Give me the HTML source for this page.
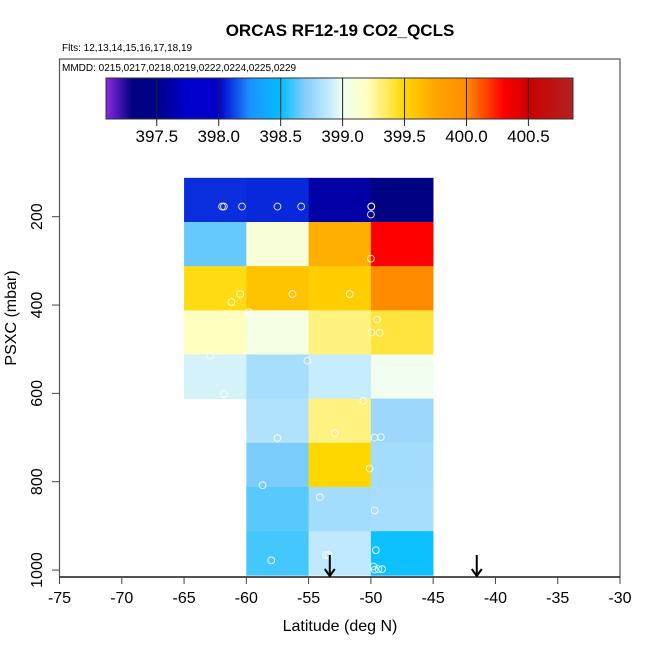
<!DOCTYPE html>
<html><head><meta charset="utf-8"><style>
html,body{margin:0;padding:0;background:#fff}
svg{display:block;font-family:"Liberation Sans",sans-serif}
</style></head><body>
<svg id="chart" width="650" height="650" viewBox="0 0 650 650"></svg>
<script>
// ---- data ----
const latEdges = [-65, -60, -55, -50, -45];
const presEdges = [112, 212, 312, 412, 512, 612, 712, 812, 912, 1012];
// rows top->bottom (low pressure -> high), cols by latitude
const cellValues = [
  [398.08, 398.07, 397.6, 397.35],
  [398.65, 399.1, 399.7, 400.3],
  [399.47, 399.6, 399.55, 400.0],
  [399.2, 399.05, 399.3, 399.4],
  [398.93, 398.8, 398.9, 399.0],
  [null, 398.83, 399.3, 398.77],
  [null, 398.68, 399.5, 398.79],
  [null, 398.63, 398.79, 398.8],
  [null, 398.6, 398.88, 398.52]
];
const pointLat = [-61.95,-61.8,-60.35,-57.5,-55.6,-49.97,-49.97,-50.0,-50.0,-60.5,-61.2,-56.3,-51.7,-59.8,-49.5,-49.95,-49.3,-62.9,-55.1,-61.8,-50.6,-57.5,-52.9,-49.7,-49.2,-50.1,-58.7,-54.1,-49.7,-58.0,-53.6,-53.4,-49.6,-49.8,-49.7,-49.4,-49.1];
const pointPres = [177,177,177,177,177,177,177,195,295,375,393,375,375,416,433,462,463,515,526,601,617,701,690,700,699,770,808,835,865,978,966,966,955,992,999,998,998];
const arrowLats = [-53.3, -41.5];
const xTicks = [-75,-70,-65,-60,-55,-50,-45,-40,-35,-30];
const yTicks = [200,400,600,800,1000];
const cbTicks = [397.5,398.0,398.5,399.0,399.5,400.0,400.5];
const cbMin = 397.09, cbMax = 400.86;
const colorStops = [
  [397.09,'#8a2be2'],[397.3,'#000080'],[397.5,'#00008b'],[397.75,'#0000cd'],[398.0,'#0000cd'],
  [398.25,'#1e90ff'],[398.5,'#00bfff'],[398.7,'#87cefa'],[398.9,'#c6ecff'],[399.0,'#f0fff0'],
  [399.2,'#ffffc0'],[399.5,'#ffd700'],[399.75,'#ffa500'],[400.0,'#ff8c00'],[400.3,'#ff0000'],
  [400.5,'#cd0000'],[400.86,'#b22222']
];
// ---- scales ----
const X0 = 59.5, X1 = 620;
const xs = v => X0 + (v + 75) / 45 * (X1 - X0);
const ys = p => 216.7 + (p - 200) * 0.4417;
const CBL = 106, CBR = 573;
const cbx = v => CBL + (v - cbMin) / (cbMax - cbMin) * (CBR - CBL);
function hex2rgb(h){return [1,3,5].map(i=>parseInt(h.substr(i,2),16));}
function colorFor(v){
  if (v <= colorStops[0][0]) return colorStops[0][1];
  for (let i=1;i<colorStops.length;i++){
    if (v <= colorStops[i][0]){
      const [a,ca]=colorStops[i-1],[b,cb]=colorStops[i];
      const t=(v-a)/(b-a), A=hex2rgb(ca), B=hex2rgb(cb);
      return 'rgb('+A.map((x,k)=>Math.round(x+(B[k]-x)*t)).join(',')+')';
    }
  }
  return colorStops[colorStops.length-1][1];
}
const NS='http://www.w3.org/2000/svg';
const svg=document.getElementById('chart');
function mk(tag,attrs,parent){const e=document.createElementNS(NS,tag);for(const k in attrs)e.setAttribute(k,attrs[k]);(parent||svg).appendChild(e);return e;}

// title
let t=mk('text',{x:340,y:36,'text-anchor':'middle','font-size':17,'font-weight':'bold'});
t.textContent='ORCAS RF12-19 CO2_QCLS';


t=mk('text',{x:62,y:51,'font-size':10});
t.textContent='Flts: 12,13,14,15,16,17,18,19';


t=mk('text',{x:62,y:71,'font-size':10});
t.textContent='MMDD: 0215,0217,0218,0219,0222,0224,0225,0229';



// colorbar
const cbg=mk('g',{});


const defs=mk('defs',{});
const lg=mk('linearGradient',{id:'cbgrad',x1:0,x2:1,y1:0,y2:0},defs);
colorStops.forEach(s=>mk('stop',{offset:((s[0]-cbMin)/(cbMax-cbMin)),'stop-color':s[1]},lg));
mk('rect',{x:CBL,y:78,width:CBR-CBL,height:41,fill:'url(#cbgrad)',stroke:'#333','stroke-width':1},cbg);
cbTicks.forEach(v=>{
  const x=cbx(v);
  const l=mk('line',{x1:x,x2:x,y1:78,y2:126,stroke:'#222','stroke-width':1},cbg);
  
  
  const tx=mk('text',{x:x,y:142,'text-anchor':'middle','font-size':17},cbg);
  tx.textContent=v.toFixed(1);
  
  
});

// heatmap cells
const cells=mk('g',{});


cellValues.forEach((row,r)=>row.forEach((v,c)=>{
  if(v===null)return;
  const x=xs(latEdges[c]),x2=xs(latEdges[c+1]),y=ys(presEdges[r]),y2=ys(presEdges[r+1]);
  const rc=mk('rect',{x:x,y:y,width:x2-x+0.3,height:y2-y+0.3,fill:colorFor(v)},cells);
  
  
}));
// points
pointLat.forEach((la,i)=>{
  const c=mk('circle',{cx:xs(la),cy:ys(pointPres[i]),r:3.4,fill:'none',stroke:'#fff','stroke-width':1,opacity:0.85});
  
  
});
// arrows
arrowLats.forEach(la=>{
  const g=mk('g',{stroke:'#000','stroke-width':2,fill:'none'});
  
  
  const x=xs(la);
  mk('line',{x1:x,x2:x,y1:555,y2:576},g);
  mk('polyline',{points:`${x-5},${569} ${x},${576} ${x+5},${569}`},g);
});

// plot frame
const fr=mk('rect',{x:X0,y:59,width:X1-X0,height:577-59,fill:'none',stroke:'#555','stroke-width':1.2});


const xa=mk('line',{x1:X0,x2:X1,y1:577,y2:577,stroke:'#000','stroke-width':1.2});



// x ticks
xTicks.forEach(v=>{
  const x=xs(v);
  mk('line',{x1:x,x2:x,y1:577,y2:584,stroke:'#444'});
  const tx=mk('text',{x:x,y:603,'text-anchor':'middle','font-size':16});
  tx.textContent=v;
  
  
});
t=mk('text',{x:340,y:631,'text-anchor':'middle','font-size':16});
t.textContent='Latitude (deg N)';



// y ticks
yTicks.forEach(v=>{
  const y=ys(v);
  mk('line',{x1:52,x2:X0,y1:y,y2:y,stroke:'#444'});
  const tx=mk('text',{x:0,y:0,'text-anchor':'middle','font-size':16,transform:`translate(42,${y}) rotate(-90)`});
  tx.textContent=v;
  
  
});
t=mk('text',{x:0,y:0,'text-anchor':'middle','font-size':16,transform:'translate(16,318) rotate(-90)'});
t.textContent='PSXC (mbar)';


</script>
</body></html>
